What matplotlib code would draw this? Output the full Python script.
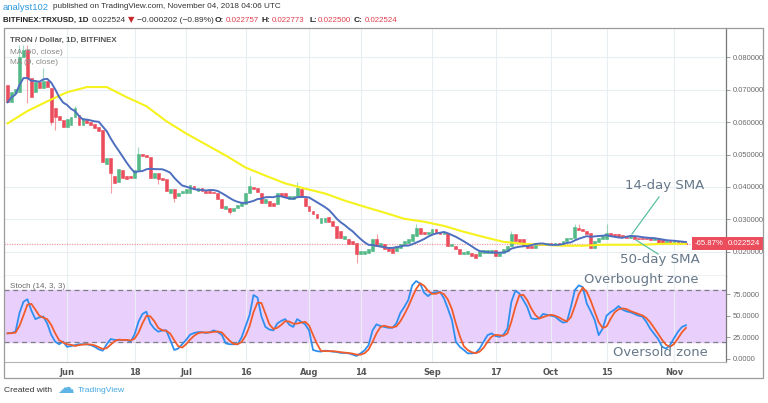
import numpy as np
import pandas as pd
import matplotlib
matplotlib.use('Agg')
import matplotlib.pyplot as plt
import matplotlib.dates as mdates
import matplotlib.transforms as mtransforms
from matplotlib import font_manager
from matplotlib.patches import Rectangle
from matplotlib.lines import Line2D

W, H = 768, 403

# ---- data (TRX/USD daily, Bitfinex) ----
start_date = '2018-05-17'
opens = [
    .0714, .0661, .0689, .0692, .0801, .0822, .0736, .0692, .0723, .0705,
    .0726, .0705, .0643, .0618, .0606, .0584, .0590, .0615, .0621, .0590,
    .0606, .0599, .0593, .0584, .0575, .0472, .0488, .0435, .0414, .0451,
    .0435, .0435, .0429, .0451, .0503, .0500, .0491, .0429, .0442, .0429,
    .0426, .0383, .0395, .0373, .0380, .0383, .0383, .0404, .0389, .0398,
    .0389, .0389, .0386, .0383, .0364, .0333, .0336, .0327, .0336, .0342,
    .0349, .0380, .0401, .0398, .0383, .0352, .0358, .0352, .0349, .0383,
    .0380, .0364, .0364, .0373, .0395, .0367, .0342, .0327, .0318, .0290,
    .0293, .0308, .0296, .0280, .0265, .0240, .0240, .0234, .0228, .0194,
    .0194, .0197, .0203, .0240, .0219, .0225, .0212, .0212, .0203, .0212,
    .0225, .0228, .0234, .0250, .0274, .0262, .0256, .0256, .0271, .0262,
    .0256, .0259, .0219, .0219, .0209, .0194, .0194, .0197, .0194, .0188,
    .0197, .0197, .0197, .0206, .0188, .0197, .0203, .0219, .0256, .0240,
    .0240, .0225, .0219, .0212, .0228, .0228, .0222, .0228, .0222, .0228,
    .0225, .0234, .0240, .0243, .0274, .0271, .0265, .0259, .0212, .0231,
    .0240, .0240, .0259, .0256, .0256, .0253, .0250, .0243, .0250, .0243,
    .0243, .0243, .0243, .0237, .0240, .0240, .0228, .0234, .0228, .0234,
    .0234, .022757]
closes = [
    .0661, .0692, .0702, .0801, .0822, .0736, .0677, .0723, .0705, .0726,
    .0708, .0599, .0615, .0606, .0584, .0609, .0615, .0643, .0590, .0612,
    .0596, .0590, .0581, .0572, .0476, .0488, .0442, .0411, .0454, .0429,
    .0426, .0429, .0451, .0503, .0497, .0491, .0429, .0442, .0426, .0423,
    .0389, .0395, .0367, .0383, .0389, .0395, .0407, .0395, .0398, .0389,
    .0380, .0380, .0380, .0364, .0336, .0342, .0324, .0336, .0346, .0352,
    .0380, .0404, .0395, .0386, .0352, .0364, .0342, .0342, .0383, .0373,
    .0370, .0373, .0373, .0398, .0370, .0342, .0327, .0318, .0305, .0305,
    .0305, .0293, .0280, .0243, .0243, .0250, .0225, .0225, .0194, .0203,
    .0203, .0209, .0240, .0219, .0228, .0209, .0203, .0197, .0219, .0225,
    .0234, .0240, .0256, .0274, .0256, .0256, .0262, .0271, .0259, .0256,
    .0262, .0219, .0225, .0209, .0194, .0200, .0203, .0188, .0181, .0203,
    .0206, .0206, .0206, .0188, .0197, .0209, .0219, .0256, .0234, .0228,
    .0219, .0212, .0212, .0228, .0222, .0222, .0228, .0222, .0228, .0222,
    .0234, .0243, .0243, .0277, .0268, .0265, .0256, .0212, .0234, .0243,
    .0250, .0259, .0250, .0250, .0246, .0246, .0243, .0253, .0240, .0240,
    .0240, .0240, .0237, .0243, .0228, .0225, .0234, .0228, .0234, .0228,
    .0228, .022524]
# visible wick extremes (day index -> price)
wick_hi = {3: .0838, 4: .0838, 5: .0838, 9: .0767, 17: .0650, 33: .0522,
           61: .0435, 73: .0414, 93: .0256, 103: .0287, 127: .0265,
           143: .0287, 144: .0287, 151: .0287, 171: .022773}
wick_lo = {5: .0658, 11: .0590, 12: .0575, 26: .0383, 38: .0410, 42: .0355,
           56: .0318, 88: .0166, 171: .0225}

# 50-day SMA
ma50_days = [0, 5, 10, 15, 20, 25, 30, 35, 40, 45, 50, 55, 60, 65, 70, 75, 80, 85,
             90, 95, 100, 105, 110, 115, 120, 125, 130, 135, 140, 145, 150, 155,
             160, 165, 171]
ma50_vals = [.0596, .0634, .0664, .0692, .0708, .0708, .0677, .0649, .0603, .0565,
             .0531, .0497, .0460, .0435, .0411, .0395, .0380, .0358, .0339, .0321,
             .0302, .0293, .0280, .0262, .0246, .0231, .0225, .0222, .0219, .0219,
             .0222, .0222, .0222, .0225, .0225]

# Stochastic %K (14, 3)
stoch_k = [
    29.6, 30, 31.5, 53, 66, 69, 56, 46, 48, 49, 41, 28, 20, 17, 20, 14, 15, 16, 17, 17,
    17, 16, 14, 11, 9.6, 17, 23, 22, 22, 22, 22, 20, 28, 43, 52, 54.6, 41, 35, 31.5, 33,
    33, 22, 10.4, 12, 17, 22, 28, 30, 31, 31, 30, 31, 33, 31, 28, 18, 17, 17, 17, 25,
    38, 50.7, 73.8, 71, 49, 37, 34, 33, 41, 44, 46, 39.6, 37, 46, 43, 40, 33, 10.4, 9, 8.5,
    9.6, 9, 8.5, 8, 7, 7, 6.5, 5, 3.5, 6.5, 10, 16, 33, 40, 38, 37, 36, 36, 41, 53,
    60, 68, 85, 90, 87, 76.5, 72.6, 76.5, 77, 77.5, 70, 58, 45, 20, 14, 10.4, 6.5, 6.5, 7, 12,
    20, 27.5, 29.6, 26.5, 25.6, 28, 35, 66, 78.8, 75.6, 68, 60, 47, 46, 47, 52, 51, 50, 49, 45,
    42, 43, 60, 79.6, 85, 83, 64, 55, 45, 27.5, 35, 50, 54, 57, 61, 57, 55, 54, 52, 50,
    49, 43, 35, 29, 23, 14, 12, 16, 24, 31.5, 37, 39]

tick_dates = ['2018-06-01', '2018-06-18', '2018-07-01', '2018-07-16', '2018-08-01',
              '2018-08-14', '2018-09-01', '2018-09-17', '2018-10-01', '2018-10-15',
              '2018-11-01']
tick_labels = ['Jun', '18', 'Jul', '16', 'Aug', '14', 'Sep', '17', 'Oct', '15', 'Nov']
price_ticks = [0.02, 0.03, 0.04, 0.05, 0.06, 0.07, 0.08]
stoch_ticks = [0, 25, 50, 75]
last_price = 0.022524

UP, DOWN = '#53b987', '#eb4d5c'
GRID = '#e9eef3'
FRAME = '#9b9b9b'


def pick(*names):
    for n in names:
        try:
            font_manager.findfont(font_manager.FontProperties(family=n),
                                  fallback_to_default=False)
            return n
        except ValueError:
            pass
    return 'DejaVu Sans'


SMALL = pick('Liberation Sans Narrow', 'Liberation Sans')
plt.rcParams['font.family'] = ['DejaVu Sans']


def box(x0, y0, x1, y1):
    return [x0 / W, 1 - y1 / H, (x1 - x0) / W, (y1 - y0) / H]


def ftxt(x, y, s, x1=None, **kw):
    # place text at pixel position; if x1 is given, scale the font so it ends there
    kw.setdefault('va', 'center')
    kw.setdefault('ha', 'left')
    t = fig.text(x / W, 1 - y / H, s, **kw)
    if x1 is not None:
        bb = t.get_window_extent(renderer=fig.canvas.get_renderer())
        t.set_fontsize(t.get_fontsize() * (x1 - x) / bb.width)
    return t


def right_end(t):
    return t.get_window_extent(renderer=fig.canvas.get_renderer()).x1


dates = pd.date_range(start_date, periods=len(closes), freq='D')
xd = mdates.date2num(dates)
o = np.array(opens)
c = np.array(closes)
ma9 = pd.Series(closes).rolling(9, min_periods=1).mean()
stoch_d = pd.Series(stoch_k).rolling(3, min_periods=1).mean()

fig = plt.figure(figsize=(W / 100, H / 100), dpi=100)
ax = fig.add_axes(box(4, 28, 726, 276))
ax2 = fig.add_axes(box(4, 276, 726, 362), sharex=ax)

# ---- candles ----
up = c >= o
cols = np.where(up, UP, DOWN)
for i in range(len(c)):
    hi = wick_hi.get(i, max(o[i], c[i]))
    lo = wick_lo.get(i, min(o[i], c[i]))
    ax.vlines(xd[i], lo, hi, color=cols[i], lw=0.8, alpha=0.55, zorder=3)
ax.bar(xd, np.abs(c - o), bottom=np.minimum(o, c), width=0.72, color=cols,
       edgecolor=cols, linewidth=0.4, zorder=4)

ax.plot(mdates.date2num(dates[ma50_days]), ma50_vals, color='#f5f21c', lw=1.5, zorder=5)
ax.plot(xd, ma9, color='#4e6fbf', lw=1.4, zorder=6)
ax.axhline(last_price, color=DOWN, lw=0.9, ls=(0, (1, 1)), alpha=0.55, zorder=2)

x_left = mdates.date2num(pd.Timestamp(start_date)) - 0.9
x_right = x_left + 182.0
ax.set_xlim(x_left, x_right)
ax.set_ylim(0.01257, 0.0890)
ax.set_yticks(price_ticks)
ax.yaxis.set_major_formatter(plt.FuncFormatter(lambda v, p: '%.6f' % v))
ax.yaxis.tick_right()
ax.tick_params(axis='y', length=3, width=0.6, pad=2, labelsize=5.4,
               colors='#8a8a8a', labelcolor='#6a6a6a', labelfontfamily=SMALL)
ax.tick_params(axis='x', length=0, labelbottom=False)
tick_x = mdates.date2num(pd.to_datetime(tick_dates))
ax.set_xticks(tick_x)
ax.grid(True, color=GRID, lw=0.8)
ax.set_axisbelow(True)
for s in ['left', 'top']:
    ax.spines[s].set_visible(False)
ax.spines['right'].set_color('#777777')
ax.spines['bottom'].set_color('#8a8a8a')
ax.spines['right'].set_linewidth(0.9)
ax.spines['bottom'].set_linewidth(0.9)

trans = mtransforms.blended_transform_factory(ax.transAxes, ax.transData)
ax.text(1.003, last_price, '0.022524', transform=trans, ha='left', va='center',
        fontsize=5.6, color='white', clip_on=False, zorder=10, family=SMALL,
        bbox=dict(boxstyle='square,pad=0.35', fc=DOWN, ec='none'))
ax.text(0.997, last_price, '-65.87%', transform=trans, ha='right', va='center',
        fontsize=5.6, color='white', zorder=10, family=SMALL,
        bbox=dict(boxstyle='square,pad=0.35', fc=DOWN, ec='none'))

# ---- stochastic ----
ax2.axhspan(20, 80, color='#e9d0fc', zorder=0)
ax2.axhline(80, color='#7d7d85', lw=0.9, ls=(0, (4, 3)), zorder=2)
ax2.axhline(20, color='#7d7d85', lw=0.9, ls=(0, (4, 3)), zorder=2)
ax2.plot(xd, stoch_k, color='#2f8ff0', lw=1.3, zorder=4)
ax2.plot(xd, stoch_d, color='#f25b2a', lw=1.3, zorder=5)
ax2.set_ylim(-3.5, 95.8)
ax2.set_yticks(stoch_ticks)
ax2.yaxis.set_major_formatter(plt.FuncFormatter(lambda v, p: '%.4f' % v))
ax2.yaxis.tick_right()
ax2.tick_params(axis='y', length=3, width=0.6, pad=2, labelsize=5.4,
                colors='#8a8a8a', labelcolor='#6a6a6a', labelfontfamily=SMALL)
ax2.set_xticks(tick_x)
ax2.set_xticklabels(tick_labels)
ax2.tick_params(axis='x', length=0, pad=4, labelsize=6, labelcolor='#555555')
for t in ax2.get_xticklabels():
    t.set_fontweight('bold')
ax2.grid(True, axis='x', color=GRID, lw=0.8)
ax2.set_axisbelow(True)
for s in ['left', 'top']:
    ax2.spines[s].set_visible(False)
ax2.spines['right'].set_color('#777777')
ax2.spines['bottom'].set_color('#b5b5b5')
ax2.spines['right'].set_linewidth(0.9)

# outer frame
fig.patches.append(Rectangle((4 / W, 1 - 378 / H), 759 / W, 350 / H, transform=fig.transFigure,
                             fill=False, ec=FRAME, lw=0.9))

# ---- header text ----
ftxt(3, 7, 'analyst102', 49, fontsize=8, color='#2f9be0', family=SMALL)
ftxt(53, 7, 'published on TradingView.com, November 04, 2018 04:06 UTC', 282,
     fontsize=8, color='#333333', family=SMALL)
ftxt(3, 20, 'BITFINEX:TRXUSD, 1D', 88, fontsize=8, color='#222222', fontweight='bold',
     family=SMALL)
ftxt(92, 20, '0.022524', 126, fontsize=8, color='#333333', family=SMALL)
ftxt(128, 20, '\u25bc', fontsize=6, color='#c62828')
hdr = ftxt(137, 20, '\u22120.000202 (\u22120.89%)', 213, fontsize=8, color='#333333',
           family=SMALL)
hfs = hdr.get_fontsize()
for xp, lab, val in [(215, 'O:', '0.022757'), (262, 'H:', '0.022773'),
                     (309, 'L:', '0.022500'), (354, 'C:', '0.022524')]:
    lt = ftxt(xp, 20, lab, fontsize=hfs, color='#222222', fontweight='bold', family=SMALL)
    x0 = right_end(lt) + 1.5
    ftxt(x0, 20, val, x0 + 33, fontsize=8, color='#e0404f', family=SMALL)

ftxt(10, 40, 'TRON / Dollar, 1D, BITFINEX', 118, fontsize=8, color='#555555',
     fontweight='bold', family=SMALL)
ftxt(10, 52, 'MA (50, close)', 63, fontsize=8, color='#8a8a8a', family=SMALL)
ftxt(10, 63, 'MA (9, close)', 58, fontsize=8, color='#8a8a8a', family=SMALL)
ftxt(10, 286, 'Stoch (14, 3, 3)', 65, fontsize=8, color='#6a6a6a', family=SMALL)

# ---- annotations ----
ANN = '#66788a'
ftxt(625, 186, '14-day SMA', 704, fontsize=10, color=ANN)
ftxt(620, 259, '50-day SMA', 700, fontsize=10, color=ANN)
ftxt(584, 280, 'Overbought zone', 697, fontsize=10, color=ANN)
ftxt(613, 353, 'Oversold zone', 707, fontsize=10, color=ANN)
for (x0, y0, x1, y1) in [(659, 197, 632, 234), (636, 240, 658, 254)]:
    fig.lines.append(Line2D([x0 / W, x1 / W], [1 - y0 / H, 1 - y1 / H],
                            transform=fig.transFigure, color='#5cbfa2', lw=0.9))

# ---- footer ----
ftxt(4, 391, 'Created with', 52, fontsize=8, color='#333333', family=SMALL)
ftxt(57, 388, '\u2601', fontsize=12, color='#5fb4e6')
ftxt(78, 391, 'TradingView', 125, fontsize=8, color='#46a8e0', family=SMALL)

fig.savefig('out.png', dpi=100, facecolor='white')
